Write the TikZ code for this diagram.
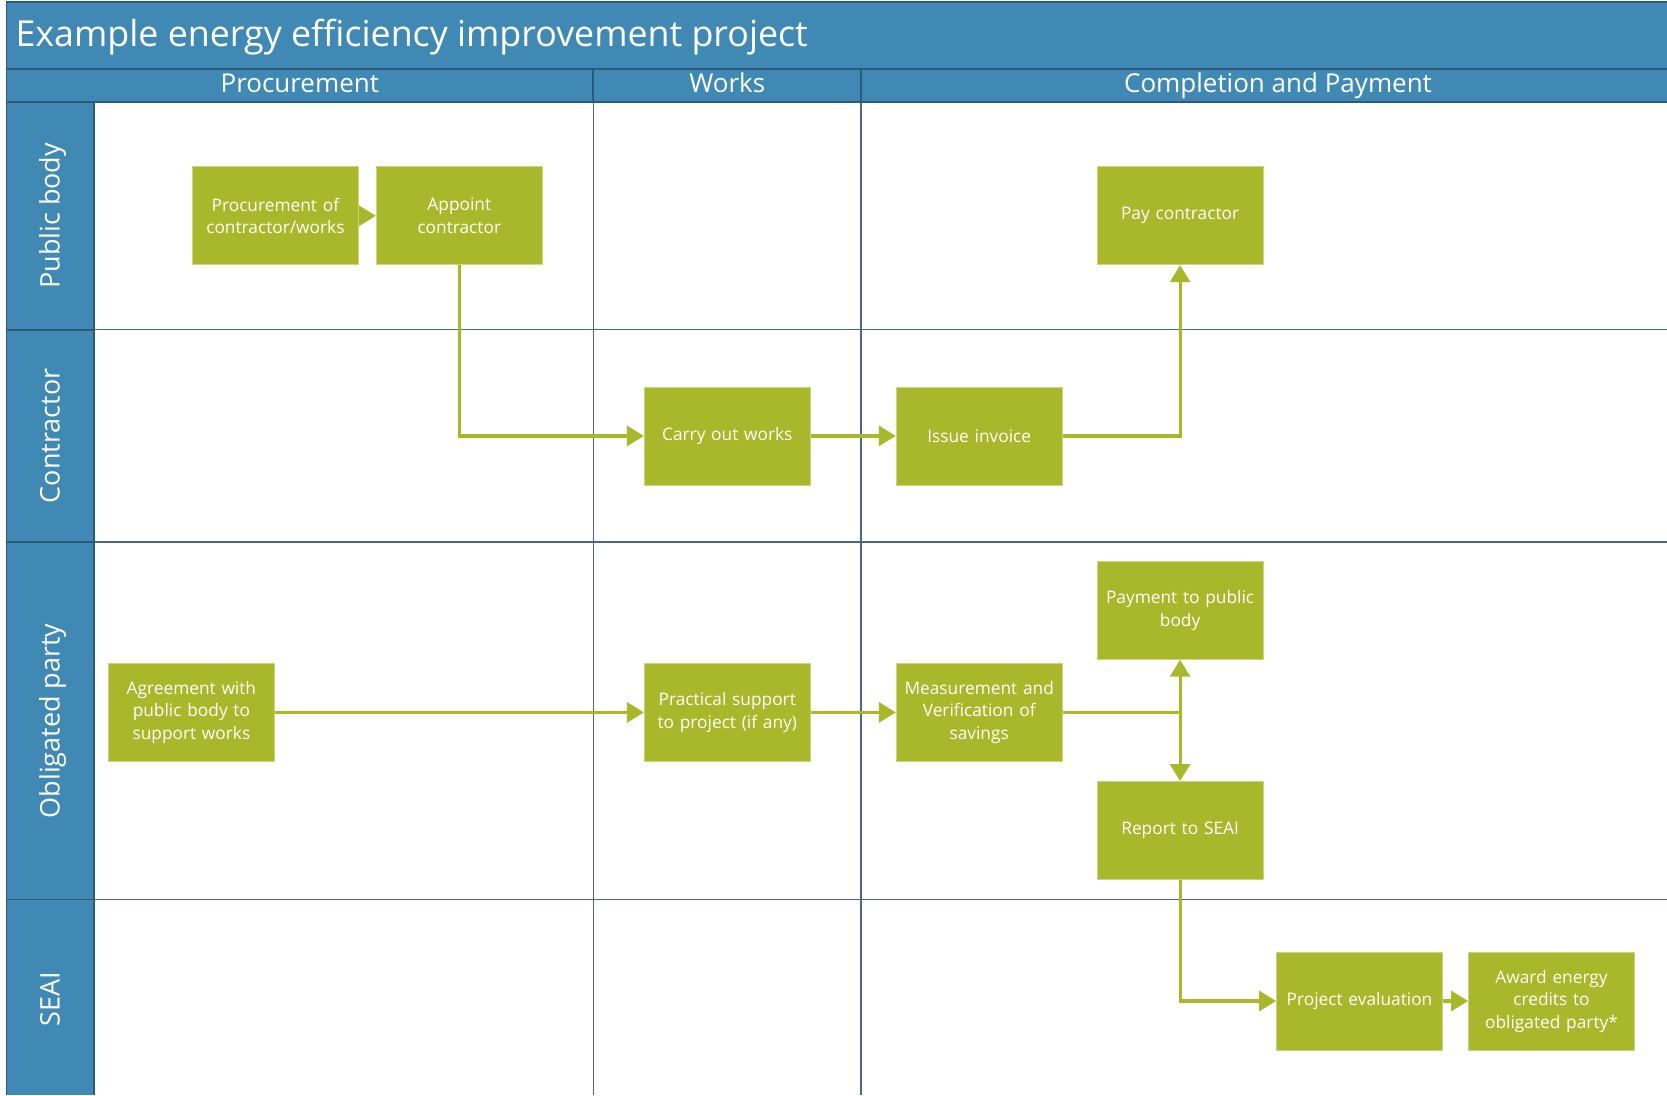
\documentclass[tikz,border=0pt]{standalone}
\usepackage{fontspec}
\setmainfont{Open Sans}
\usetikzlibrary{arrows.meta}
\definecolor{hdr}{HTML}{4189B5}
\definecolor{hdrline}{HTML}{2C5A78}
\definecolor{gridc}{HTML}{4A6882}
\definecolor{boxg}{HTML}{A9B82A}
\begin{document}
\begin{tikzpicture}[x=1pt,y=-1pt,
  pbox/.style={fill=boxg, draw=boxg!60!white, line width=0.8pt, minimum width=166pt, minimum height=98pt, inner sep=2pt, text=white, align=center, font=\fontsize{17.3}{22.5}\selectfont, text width=162pt},
  flow/.style={draw=boxg, line width=3.2pt, -{Triangle[length=17pt,width=20pt,fill=boxg]}},
  twoway/.style={draw=boxg, line width=3.2pt, {Triangle[length=17pt,width=20pt,fill=boxg]}-{Triangle[length=17pt,width=20pt,fill=boxg]}},
  laneline/.style={draw=gridc, line width=1.6pt},
  hdrrule/.style={draw=hdrline, line width=1.8pt},
  lanelabel/.style={text=white, rotate=90, anchor=base, font=\fontsize{27}{32}\selectfont},
  colhead/.style={text=white, anchor=base, font=\fontsize{26}{30}\selectfont},
  ]
\useasboundingbox (0,0) rectangle (1667,1095);
% blue bands
\fill[hdr] (6.4,2) rectangle (1667,102);
\fill[hdr] (6.4,102) rectangle (93.6,1095);
% grid lines
\draw[laneline] (93.6,329.6) -- (1667,329.6);
\draw[laneline] (93.6,542.2) -- (1667,542.2);
\draw[laneline] (93.6,899.5) -- (1667,899.5);
\draw[laneline] (593.3,102) -- (593.3,1095);
\draw[laneline] (861.2,102) -- (861.2,1095);
% header rules
\draw[hdrrule] (6.4,2) -- (1667,2);
\draw[hdrrule] (6.4,69.1) -- (1667,69.1);
\draw[hdrrule] (6.4,102.1) -- (1667,102.1);
\draw[hdrrule] (6.4,2) -- (6.4,1095);
\draw[hdrrule] (93.6,102.1) -- (93.6,1095);
\draw[hdrrule] (6.4,329.6) -- (93.6,329.6);
\draw[hdrrule] (6.4,542.2) -- (93.6,542.2);
\draw[hdrrule] (6.4,899.5) -- (93.6,899.5);
\draw[hdrrule] (593.3,69.1) -- (593.3,102.1);
\draw[hdrrule] (861.2,69.1) -- (861.2,102.1);
% title and headers
\node[text=white, anchor=base west, font=\fontsize{35.8}{40}\selectfont] (title) at (12,46) {Example energy efficiency improvement project};
\node[colhead] (hproc) at (299.8,92.5) {Procurement};
\node[colhead] (hworks) at (727.3,92.5) {Works};
\node[colhead] (hcomp) at (1278,92.5) {Completion and Payment};
\node[lanelabel] (lpub) at (59.5,215.8) {Public body};
\node[lanelabel] (lcon) at (59.5,435.9) {Contractor};
\node[lanelabel] (lobl) at (59.5,720.9) {Obligated party};
\node[lanelabel] (lsea) at (59.5,999) {SEAI};
% boxes
\node[pbox] (proc) at (275.4,215.8) {Procurement of\\contractor/works};
\node[pbox] (appt) at (459.3,215.8) {Appoint\\contractor};
\node[pbox] (pay) at (1180.1,215.8) {Pay contractor};
\node[pbox] (carry) at (727.3,435.9) {Carry out works};
\node[pbox] (inv) at (979.2,435.9) {Issue invoice};
\node[pbox] (paypb) at (1180.1,610.3) {Payment to public\\body};
\node[pbox] (agree) at (191.4,712.4) {Agreement with\\public body to\\support works};
\node[pbox] (pract) at (727.3,712.4) {Practical support\\to project (if any)};
\node[pbox] (mv) at (979.2,712.4) {Measurement and\\Verification of\\savings};
\node[pbox] (rep) at (1180.1,830.4) {Report to SEAI};
\node[pbox] (eval) at (1359.5,1001) {Project evaluation};
\node[pbox] (award) at (1551.5,1001) {Award energy\\credits to\\obligated party*};
% connectors
\draw[flow] (proc) -- (appt);
\draw[flow] (appt.south) |- (carry.west);
\draw[flow] (carry) -- (inv);
\draw[flow] (inv.east) -| (pay.south);
\draw[flow] (agree) -- (pract);
\draw[flow] (pract) -- (mv);
\coordinate (junc) at (paypb.south |- mv.east);
\draw[draw=boxg, line width=3.2pt] (mv.east) -- (junc);
\draw[twoway] (paypb.south) -- (rep.north);
\draw[flow] (rep.south) |- (eval.west);
\draw[flow] (eval) -- (award);
\end{tikzpicture}
\end{document}
